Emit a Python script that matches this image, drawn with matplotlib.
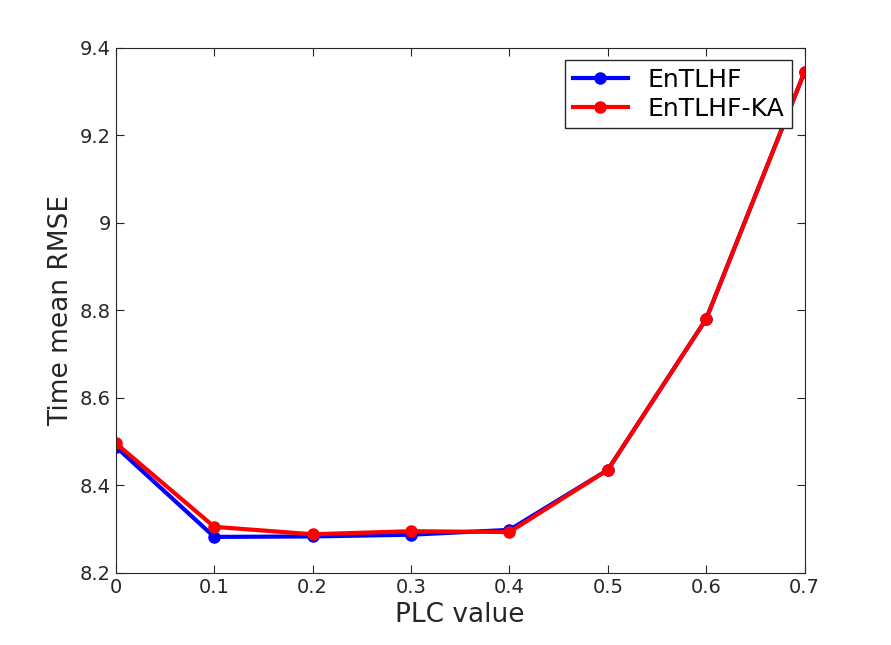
import matplotlib
matplotlib.use('Agg')
import matplotlib.pyplot as plt

plc = [0, 0.1, 0.2, 0.3, 0.4, 0.5, 0.6, 0.7]
rmse_entlhf = [8.488, 8.282, 8.283, 8.287, 8.298, 8.435, 8.780, 9.345]
rmse_entlhf_ka = [8.496, 8.305, 8.288, 8.295, 8.293, 8.435, 8.780, 9.345]

fig = plt.figure(figsize=(8.91, 6.45), dpi=100)
ax = fig.add_axes([0.130, 0.112, 0.773, 0.814])

ax.plot(plc, rmse_entlhf, color='#0000ff', marker='o', markersize=8, linewidth=3, label='EnTLHF')
ax.plot(plc, rmse_entlhf_ka, color='#ff0000', marker='o', markersize=8, linewidth=3, label='EnTLHF-KA')

ax.set_xlim(0, 0.7)
ax.set_ylim(8.2, 9.4)
ax.set_xticks(plc)
ax.set_xticklabels(['0', '0.1', '0.2', '0.3', '0.4', '0.5', '0.6', '0.7'])
ax.set_yticks([8.2, 8.4, 8.6, 8.8, 9.0, 9.2, 9.4])
ax.set_yticklabels(['8.2', '8.4', '8.6', '8.8', '9', '9.2', '9.4'])
ax.tick_params(direction='in', labelsize=14, length=6, top=True, right=True, colors='#262626')
for s in ax.spines.values():
    s.set_color('#262626')

ax.set_xlabel('PLC value', fontsize=19, color='#262626')
ax.set_ylabel('Time mean RMSE', fontsize=19, color='#262626')

leg = ax.legend(loc='upper right', fontsize=18, fancybox=False, framealpha=1,
                edgecolor='#262626', handlelength=2.2, borderpad=0.3, labelspacing=0.2)
leg.get_frame().set_linewidth(1)

plt.savefig('out.png', dpi=100)
